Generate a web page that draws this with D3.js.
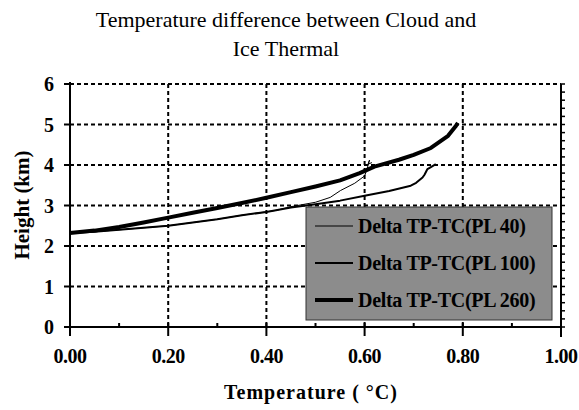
<!DOCTYPE html>
<html>
<head>
	<style type="text/css">
		html, body {
			margin: 0;
			padding: 0;
			background-color: #fff;
		}
		svg text {
			font-family: "Liberation Serif", "Times New Roman", serif;
			fill: #000;
		}
		.grid line {
			stroke: #000;
			stroke-width: 2px;
			stroke-dasharray: 4,3;
		}
	</style>
</head>
<body>
	<svg id="chart" width="579" height="410"></svg>
	<script src="https://unpkg.com/d3@7.0.1/dist/d3.min.js"></script>
	<script type="text/javascript">
		const titleLines = ['Temperature difference between Cloud and', 'Ice Thermal'];
		const xTicks = [0, 0.2, 0.4, 0.6, 0.8, 1.0];
		const yTicks = [0, 1, 2, 3, 4, 5, 6];
		const seriesNames = ['Delta TP-TC(PL 40)', 'Delta TP-TC(PL 100)', 'Delta TP-TC(PL 260)'];

		// [temperature, height]
		const pl40 = [
			[0, 2.32], [0.05, 2.35], [0.1, 2.40], [0.15, 2.45], [0.2, 2.50], [0.25, 2.58],
			[0.3, 2.66], [0.35, 2.76], [0.42, 2.88], [0.45, 2.97], [0.5, 3.08], [0.53, 3.20],
			[0.551, 3.37], [0.58, 3.55], [0.6, 3.73], [0.605, 3.90], [0.61, 4.12],
			[0.607, 4.02], [0.615, 4.06]
		];
		const pl100 = [
			[0, 2.32], [0.05, 2.35], [0.1, 2.40], [0.15, 2.45], [0.2, 2.50], [0.25, 2.58],
			[0.3, 2.66], [0.35, 2.76], [0.4, 2.84], [0.45, 2.95], [0.5, 3.03], [0.55, 3.12],
			[0.6, 3.24], [0.65, 3.36], [0.694, 3.49], [0.705, 3.56], [0.718, 3.69],
			[0.722, 3.76], [0.728, 3.90], [0.735, 3.95], [0.745, 4.02]
		];
		const pl260 = [
			[0, 2.32], [0.05, 2.38], [0.1, 2.47], [0.15, 2.58], [0.2, 2.70], [0.25, 2.82],
			[0.3, 2.94], [0.35, 3.06], [0.4, 3.19], [0.45, 3.33], [0.5, 3.47], [0.55, 3.62],
			[0.59, 3.80], [0.62, 3.96], [0.67, 4.13], [0.70, 4.25], [0.735, 4.42],
			[0.77, 4.72], [0.785, 4.95], [0.79, 5.04]
		];
		const seriesData = [pl40, pl100, pl260];
		const seriesWidths = [1, 2, 4];

		const svg = d3.select('#chart');
		const margin = { left: 70, right: 18, top: 84, bottom: 83 };
		const width = 579 - margin.left - margin.right;
		const height = 410 - margin.top - margin.bottom;

		const xScale = d3.scaleLinear().domain([0, 1]).range([0, width]);
		const yScale = d3.scaleLinear().domain([0, 6]).range([height, 0]);

		// title
		svg.append('g')
			.selectAll('text')
			.data(titleLines)
			.join('text')
			.attr('x', 286)
			.attr('y', (d, i) => 27 + i * 29)
			.attr('text-anchor', 'middle')
			.attr('font-size', '22px')
			.text(d => d);

		const g = svg.append('g')
			.attr('transform', `translate(${margin.left},${margin.top})`);

		// grid
		const grid = g.append('g').attr('class', 'grid');
		grid.selectAll('.hgrid')
			.data(yTicks.filter(d => d > 0))
			.join('line')
			.attr('x1', 0)
			.attr('x2', width)
			.attr('y1', d => yScale(d))
			.attr('y2', d => yScale(d));
		grid.selectAll('.vgrid')
			.data(xTicks.filter(d => d > 0 && d < 1))
			.join('line')
			.attr('x1', d => xScale(d))
			.attr('x2', d => xScale(d))
			.attr('y1', 0)
			.attr('y2', height);

		// right frame with small ticks
		g.append('line')
			.attr('x1', width).attr('x2', width)
			.attr('y1', 0).attr('y2', height + 10)
			.attr('stroke', '#000').attr('stroke-width', 2);
		g.append('g')
			.selectAll('line')
			.data(d3.range(0, 6.01, 0.2))
			.join('line')
			.attr('x1', width)
			.attr('x2', width + 4)
			.attr('y1', d => yScale(d))
			.attr('y2', d => yScale(d))
			.attr('stroke', '#000')
			.attr('stroke-width', 1.5);

		// lines
		const line = d3.line()
			.x(d => xScale(d[0]))
			.y(d => yScale(d[1]));

		g.append('g')
			.selectAll('path')
			.data(seriesData)
			.join('path')
			.attr('d', line)
			.attr('fill', 'none')
			.attr('stroke', '#000')
			.attr('stroke-width', (d, i) => seriesWidths[i])
			.attr('stroke-linejoin', 'round');

		// x axis
		const xAxis = g.append('g')
			.attr('transform', `translate(0,${height})`);
		xAxis.append('line')
			.attr('x1', -6).attr('x2', width)
			.attr('stroke', '#000').attr('stroke-width', 2);
		xAxis.selectAll('.minor')
			.data(d3.range(0.1, 1, 0.2))
			.join('line')
			.attr('x1', d => xScale(d)).attr('x2', d => xScale(d))
			.attr('y1', -4).attr('y2', 0)
			.attr('stroke', '#000').attr('stroke-width', 2);
		xAxis.selectAll('.major')
			.data(xTicks)
			.join('line')
			.attr('x1', d => xScale(d)).attr('x2', d => xScale(d))
			.attr('y1', -4).attr('y2', 9)
			.attr('stroke', '#000').attr('stroke-width', 2);
		xAxis.selectAll('text')
			.data(xTicks)
			.join('text')
			.attr('x', d => xScale(d))
			.attr('y', 36)
			.attr('text-anchor', 'middle')
			.attr('font-size', '20px')
			.attr('font-weight', 'bold')
			.attr('letter-spacing', '-0.5px')
			.text(d => d.toFixed(2));

		// y axis
		const yAxis = g.append('g');
		yAxis.append('line')
			.attr('y1', -2).attr('y2', height)
			.attr('stroke', '#000').attr('stroke-width', 2);
		yAxis.selectAll('.tick')
			.data(yTicks)
			.join('line')
			.attr('x1', -6).attr('x2', 0)
			.attr('y1', d => yScale(d)).attr('y2', d => yScale(d))
			.attr('stroke', '#000').attr('stroke-width', 2);
		yAxis.selectAll('text')
			.data(yTicks)
			.join('text')
			.attr('x', -16)
			.attr('y', d => yScale(d) + 7)
			.attr('text-anchor', 'end')
			.attr('font-size', '20px')
			.attr('font-weight', 'bold')
			.text(d => d);

		// axis titles
		svg.append('text')
			.attr('x', 311)
			.attr('y', 399)
			.attr('text-anchor', 'middle')
			.attr('font-size', '20px')
			.attr('font-weight', 'bold')
			.attr('letter-spacing', '1px')
			.text('Temperature ( °C)');
		svg.append('text')
			.attr('transform', 'translate(29,205) rotate(-90)')
			.attr('text-anchor', 'middle')
			.attr('font-size', '21px')
			.attr('font-weight', 'bold')
			.text('Height (km)');

		// legend
		const legend = svg.append('g').attr('transform', 'translate(306,207)');
		legend.append('rect')
			.attr('width', 246)
			.attr('height', 113)
			.attr('fill', '#8c8c8c')
			.attr('stroke', '#333')
			.attr('stroke-width', 1);
		const items = legend.selectAll('.item')
			.data(seriesNames)
			.join('g')
			.attr('transform', (d, i) => `translate(0,${19 + i * 37})`);
		items.append('line')
			.attr('x1', 9).attr('x2', 47)
			.attr('stroke', '#000')
			.attr('stroke-width', (d, i) => seriesWidths[i]);
		items.append('text')
			.attr('x', 52)
			.attr('y', 7)
			.attr('font-size', '20px')
			.attr('font-weight', 'bold')
			.attr('letter-spacing', '-0.3px')
			.text(d => d);
	</script>
</body>
</html>
